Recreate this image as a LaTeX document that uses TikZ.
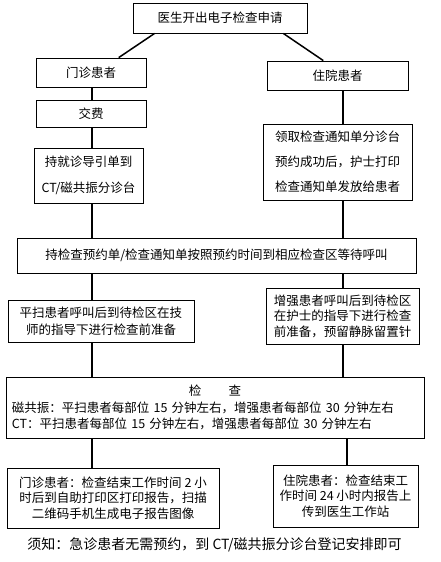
\documentclass[tikz,border=0pt]{standalone}
\usepackage{fontspec}
\setmainfont{Noto Sans CJK SC}
\usetikzlibrary{calc}

\tikzset{
  box/.style={draw, line width=.8pt, inner sep=0pt, align=center,
    font=\fontsize{12.5}{16}\selectfont},
  link/.style={line width=1.5pt}
}

\begin{document}
\begin{tikzpicture}[x=1pt,y=-1pt]
    \useasboundingbox (0,0) rectangle (441,562);
    \coordinate (lcol) at (92,0);
    \coordinate (rcol) at (343,0);

    \node[box, minimum width=174, minimum height=30] (req) at (220,18) {医生开出电子检查申请};
    \node[box, minimum width=110, minimum height=29] (opd) at (91,72.5) {门诊患者};
    \node[box, minimum width=141, minimum height=29] (ipd) at (337.5,75.5) {住院患者};
    \node[box, minimum width=110, minimum height=27] (pay) at (91,113.5) {交费};
    \node[box, minimum width=109, minimum height=55, font=\fontsize{12.5}{26}\selectfont] (guide) at (88.5,175.5)
      {持就诊导引单到\\CT/磁共振分诊台};
    \node[box, minimum width=149, minimum height=76, font=\fontsize{12.5}{25}\selectfont] (notice) at (337.5,162)
      {领取检查通知单分诊台\\预约成功后，护士打印\\检查通知单发放给患者};
    \node[box, minimum width=399, minimum height=35] (wait) at (216.5,255.5)
      {持检查预约单/检查通知单按照预约时间到相应检查区等待呼叫};
    \node[box, minimum width=186, minimum height=42, font=\fontsize{12.5}{17}\selectfont] (plain) at (101,321)
      {平扫患者呼叫后到待检区在技\\师的指导下进行检查前准备};
    \node[box, minimum width=153, minimum height=56, align=left, font=\fontsize{12.5}{15.5}\selectfont] (enh) at (342.5,316)
      {增强患者呼叫后到待检区\\在护士的指导下进行检查\\前准备，预留静脉留置针};
    \node[box, minimum width=418, minimum height=61, align=left, text width=406, font=\fontsize{12.5}{16.5}\selectfont] (exam) at (215,407.5)
      {\makebox[406pt]{检\hspace{2.2em}查}\\
       磁共振：平扫患者每部位 15 分钟左右，增强患者每部位 30 分钟左右\\
       CT：平扫患者每部位 15 分钟左右，增强患者每部位 30 分钟左右};
    \node[box, minimum width=212, minimum height=60, font=\fontsize{12.5}{15.5}\selectfont] (opdrep) at (113,498)
      {门诊患者：检查结束工作时间 2 小\\时后到自助打印区打印报告，扫描\\二维码手机生成电子报告图像};
    \node[box, minimum width=145, minimum height=62, font=\fontsize{12.5}{15.5}\selectfont] (ipdrep) at (345.5,496)
      {住院患者：检查结束工\\作时间 24 小时内报告上\\传到医生工作站};
    \node[font=\fontsize{14}{16}\selectfont, inner sep=0pt] (note) at (214.5,545)
      {须知：急诊患者无需预约，到 CT/磁共振分诊台登记安排即可};

    % split to the two patient kinds
    \draw[link] ($(req.south west)!.126!(req.south east)$) -- ($(opd.north west)!.75!(opd.north east)$);
    \draw[link] ($(req.south west)!.862!(req.south east)$) -- ($(ipd.north west)!.4!(ipd.north east)$);

    % left column
    \draw[link] (lcol |- opd.south) -- (lcol |- pay.north);
    \draw[link] (lcol |- pay.south) -- (lcol |- guide.north);
    \draw[link] (lcol |- guide.south) -- (lcol |- wait.north);
    \draw[link] (lcol |- wait.south) -- (lcol |- plain.north);
    \draw[link] (lcol |- plain.south) -- (lcol |- exam.north);
    \draw[link] (lcol |- exam.south) -- (lcol |- opdrep.north);

    % right column
    \draw[link] (rcol |- ipd.south) -- (rcol |- notice.north);
    \draw[link] (rcol |- notice.south) -- (rcol |- wait.north);
    \draw[link] (rcol |- wait.south) -- (rcol |- enh.north);
    \draw[link] (rcol |- enh.south) -- (rcol |- exam.north);
    \draw[link] ($(rcol |- exam.south)+(4,0)$) -- ($(rcol |- ipdrep.north)+(4,0)$);
\end{tikzpicture}
\end{document}
